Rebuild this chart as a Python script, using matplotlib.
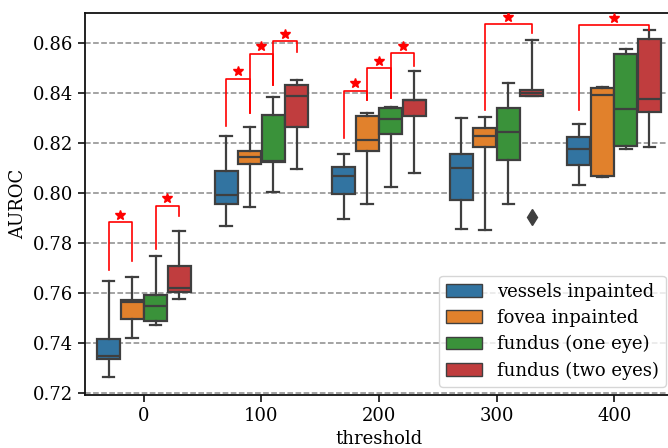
import matplotlib
matplotlib.use("Agg")
import matplotlib.pyplot as plt
from matplotlib.patches import Patch

plt.rcParams['font.family'] = ['DejaVu Serif']

thresholds = [0, 100, 200, 300, 400]
labels = ["vessels inpainted", "fovea inpainted", "fundus (one eye)", "fundus (two eyes)"]
colors = ["#3274a1", "#e1812c", "#3a923a", "#c03d3e"]

# box statistics, one list per hue over thresholds
whislo = [[0.7263, 0.7870, 0.7897, 0.7856, 0.8033],
          [0.7420, 0.7945, 0.7957, 0.7853, 0.8064],
          [0.7473, 0.8006, 0.8025, 0.7957, 0.8176],
          [0.7576, 0.8097, 0.8080, 0.8389, 0.8186]]
q1 = [[0.7336, 0.7956, 0.7996, 0.7973, 0.8113],
      [0.7496, 0.8116, 0.8169, 0.8185, 0.8070],
      [0.7488, 0.8126, 0.8236, 0.8132, 0.8189],
      [0.7605, 0.8264, 0.8309, 0.8389, 0.8324]]
med = [[0.7350, 0.7994, 0.8070, 0.8100, 0.8177],
       [0.7566, 0.8146, 0.8213, 0.8227, 0.8393],
       [0.7547, 0.8128, 0.8298, 0.8245, 0.8336],
       [0.7621, 0.8390, 0.8372, 0.8402, 0.8376]]
q3 = [[0.7415, 0.8090, 0.8106, 0.8157, 0.8224],
      [0.7571, 0.8170, 0.8309, 0.8261, 0.8420],
      [0.7594, 0.8311, 0.8340, 0.8342, 0.8557],
      [0.7709, 0.8433, 0.8373, 0.8413, 0.8616]]
whishi = [[0.7648, 0.8229, 0.8156, 0.8302, 0.8276],
          [0.7664, 0.8265, 0.8320, 0.8304, 0.8424],
          [0.7747, 0.8386, 0.8344, 0.8442, 0.8576],
          [0.7850, 0.8453, 0.8487, 0.8613, 0.8653]]
fliers = [[[], [], [], [], []],
          [[], [], [], [], []],
          [[], [], [], [], []],
          [[], [], [], [0.7906], []]]

# significance brackets: threshold index, hue a, hue b, left leg bottom, top, right leg bottom
brackets = [(0, 0, 1, 0.7691, 0.7883, 0.7727),
            (0, 2, 3, 0.7776, 0.7949, 0.7907),
            (1, 0, 1, 0.8267, 0.8457, 0.8320),
            (1, 1, 2, 0.8320, 0.8557, 0.8433),
            (1, 2, 3, 0.8433, 0.8608, 0.8564),
            (2, 0, 1, 0.8220, 0.8409, 0.8373),
            (2, 1, 2, 0.8373, 0.8500, 0.8380),
            (2, 2, 3, 0.8380, 0.8560, 0.8510),
            (3, 1, 3, 0.8333, 0.8676, 0.8640),
            (4, 0, 3, 0.8333, 0.8671, 0.8653)]

offsets = [-0.3, -0.1, 0.1, 0.3]
edge = "#3f3f3f"

fig = plt.figure(figsize=(6.68, 4.48), dpi=100)
ax = fig.add_axes([85 / 668, 53 / 448, 588 / 668, 382 / 448])

ax.yaxis.grid(True, linestyle="--", color="#8a8a8a", linewidth=1.1, zorder=0)
ax.set_axisbelow(True)

for h in range(4):
    stats = []
    for i in range(len(thresholds)):
        stats.append(dict(whislo=whislo[h][i], q1=q1[h][i], med=med[h][i],
                          q3=q3[h][i], whishi=whishi[h][i], fliers=fliers[h][i]))
    pos = [i + offsets[h] for i in range(len(thresholds))]
    ax.bxp(stats, positions=pos, widths=0.196, patch_artist=True, manage_ticks=False,
           boxprops=dict(facecolor=colors[h], edgecolor=edge, linewidth=1.6),
           medianprops=dict(color=edge, linewidth=1.6),
           whiskerprops=dict(color=edge, linewidth=1.6),
           capprops=dict(color=edge, linewidth=1.6),
           flierprops=dict(marker="d", markersize=8, markerfacecolor=edge,
                           markeredgecolor=edge))

for g, a, b, yl, yt, yr in brackets:
    xa = g + offsets[a]
    xb = g + offsets[b]
    ax.plot([xa, xa, xb, xb], [yl, yt, yt, yr], color="red", linewidth=1.2, zorder=5)
    ax.plot((xa + xb) / 2, yt + 0.003, marker="*", color="red", markersize=7, zorder=5)

ax.set_xlim(-0.5, 4.5)
ax.set_ylim(0.7193, 0.872)
ax.set_xticks(range(len(thresholds)))
ax.set_xticklabels([str(t) for t in thresholds])
ax.set_yticks([0.72, 0.74, 0.76, 0.78, 0.80, 0.82, 0.84, 0.86])
ax.set_yticklabels(["0.72", "0.74", "0.76", "0.78", "0.80", "0.82", "0.84", "0.86"])
ax.tick_params(labelsize=13, length=5, width=1.3, color="#222222")
for s in ax.spines.values():
    s.set_linewidth(1.3)
    s.set_color("#111111")
ax.set_xlabel("threshold", fontsize=13)
ax.set_ylabel("AUROC", fontsize=13)

handles = [Patch(facecolor=c, edgecolor=edge, linewidth=1.0) for c in colors]
ax.legend(handles, labels, fontsize=13, loc="lower right", labelspacing=0.45,
          bbox_to_anchor=(666 / 668, 61 / 448), bbox_transform=fig.transFigure,
          borderaxespad=0)

fig.savefig("out.png", dpi=100)
